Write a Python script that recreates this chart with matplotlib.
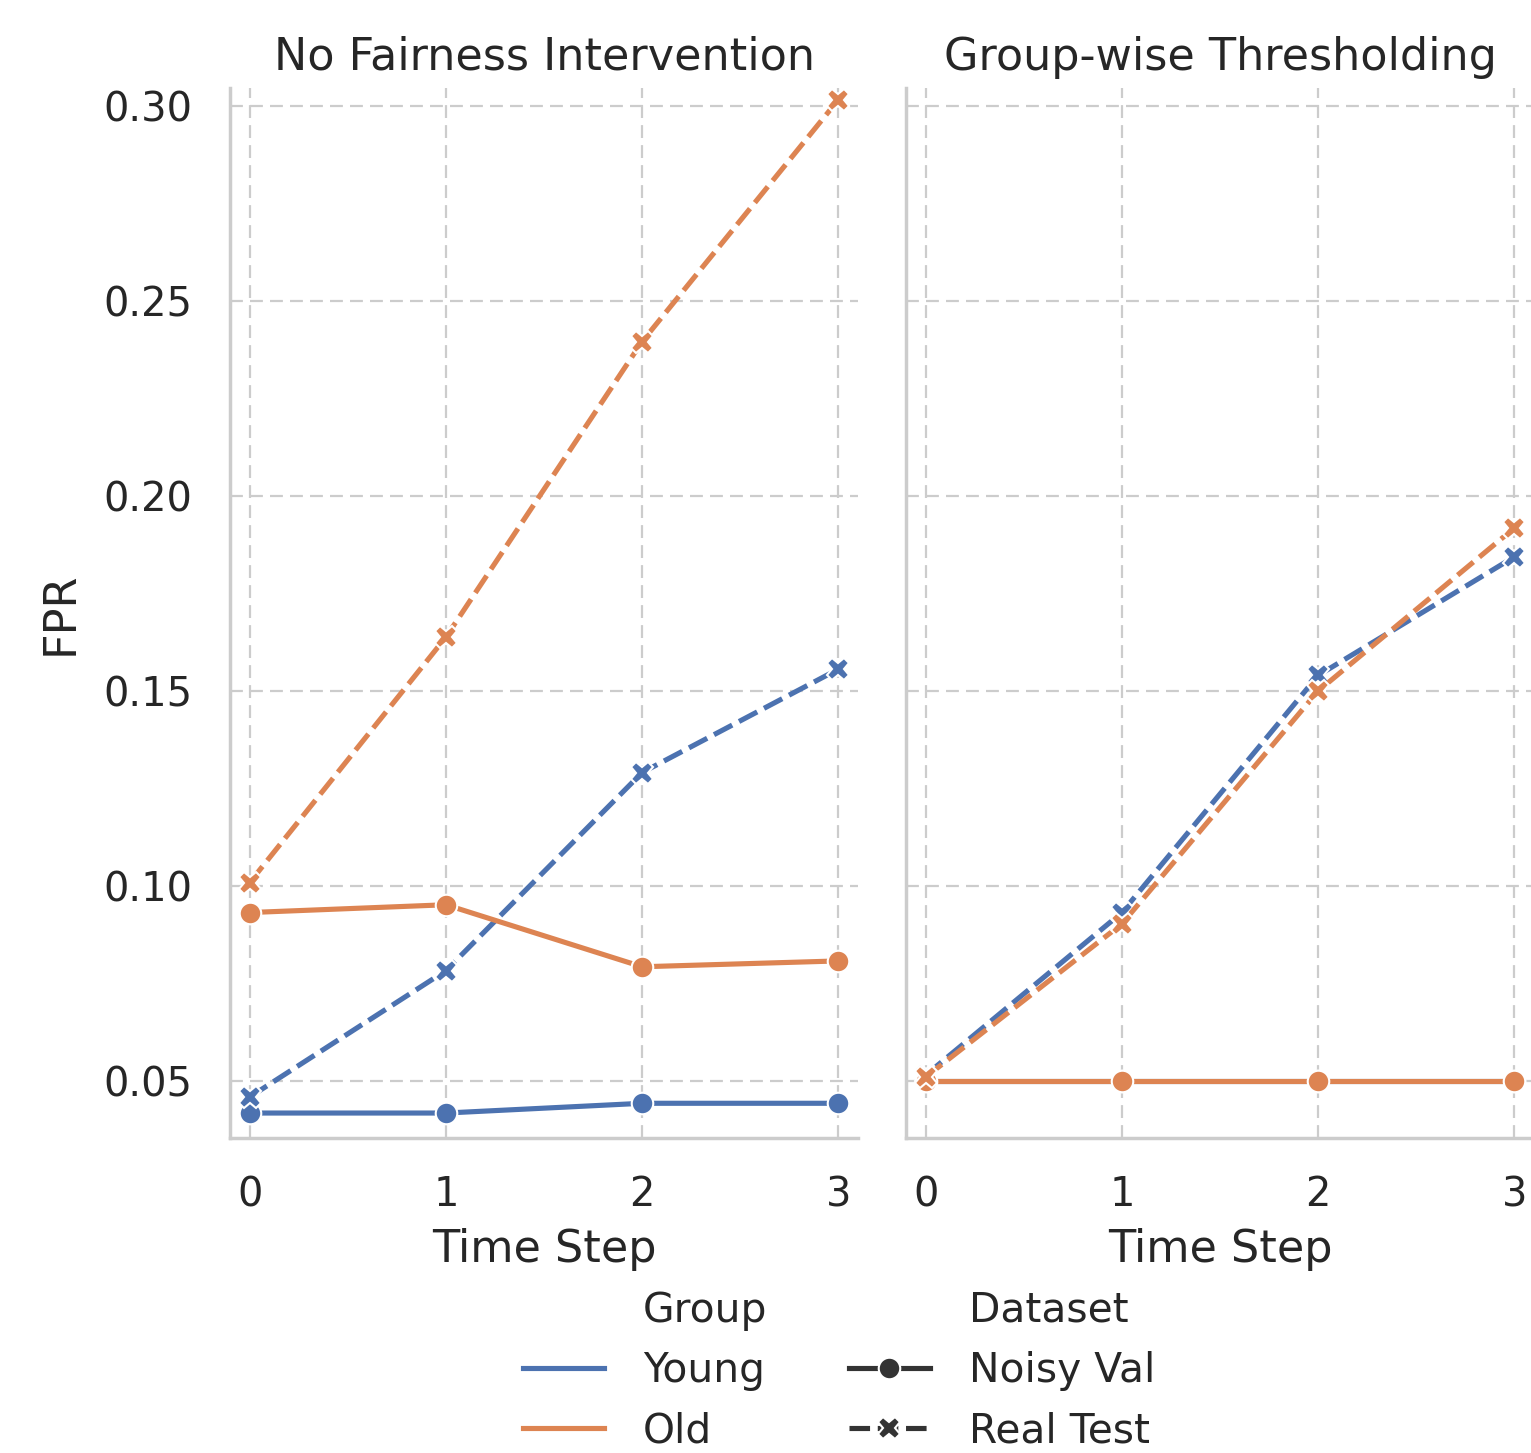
import matplotlib
matplotlib.use("Agg")
import matplotlib.pyplot as plt
from matplotlib.lines import Line2D

plt.rcParams['font.family'] = ['DejaVu Sans']

time_steps = [0, 1, 2, 3]
panel_titles = ["No Fairness Intervention", "Group-wise Thresholding"]
groups = ["Young", "Old"]
datasets = ["Noisy Val", "Real Test"]

# Panel 1: No Fairness Intervention
nf_young_noisy = [0.0418, 0.0418, 0.0443, 0.0443]
nf_young_real = [0.0459, 0.0783, 0.1291, 0.1556]
nf_old_noisy = [0.0932, 0.0952, 0.0793, 0.0808]
nf_old_real = [0.1009, 0.1638, 0.2396, 0.3016]

# Panel 2: Group-wise Thresholding
gt_young_noisy = [0.0500, 0.0500, 0.0500, 0.0500]
gt_young_real = [0.0515, 0.0932, 0.1540, 0.1844]
gt_old_noisy = [0.0500, 0.0500, 0.0500, 0.0500]
gt_old_real = [0.0510, 0.0903, 0.1500, 0.1918]

yticks = [0.05, 0.10, 0.15, 0.20, 0.25, 0.30]

colors = {"Young": "#4C72B0", "Old": "#DD8452"}
DASH = (0, (4, 1.5))
styles = {"Noisy Val": dict(ls="-", marker="o", ms=15.5),
          "Real Test": dict(ls=DASH, marker="X", ms=16)}

panels = [
    {("Young", "Noisy Val"): nf_young_noisy, ("Young", "Real Test"): nf_young_real,
     ("Old", "Noisy Val"): nf_old_noisy, ("Old", "Real Test"): nf_old_real},
    {("Young", "Noisy Val"): gt_young_noisy, ("Young", "Real Test"): gt_young_real,
     ("Old", "Noisy Val"): gt_old_noisy, ("Old", "Real Test"): gt_old_real},
]

W, H = 1531, 1453
fig = plt.figure(figsize=(W / 100, H / 100), dpi=100)
ax_w = 628 / W
ax_h = (1138 - 88) / H
bottom = 1 - 1138 / H
ax1 = fig.add_axes([230 / W, bottom, ax_w, ax_h])
ax2 = fig.add_axes([906 / W, bottom, ax_w, ax_h], sharey=ax1)

grid_col = "#cccccc"
txt_col = "#262626"
LW = 3.7
for i, (ax, title, data) in enumerate(zip([ax1, ax2], panel_titles, panels)):
    ax.set_axisbelow(True)
    for g in groups:
        for d in datasets:
            st = styles[d]
            ax.plot(time_steps, data[(g, d)], color=colors[g], lw=LW,
                    linestyle=st["ls"], marker=st["marker"], ms=st["ms"],
                    markeredgecolor="white", markeredgewidth=1.5, zorder=3)
    ax.set_xlim(-0.1, 3.1)
    ax.set_ylim(0.0354, 0.3046)
    ax.set_xticks(time_steps)
    ax.set_yticks(yticks)
    ax.grid(True, linestyle=(0, (5.8, 3.2)), color=grid_col, lw=1.6)
    for s in ["top", "right"]:
        ax.spines[s].set_visible(False)
    for s in ["left", "bottom"]:
        ax.spines[s].set_color(grid_col)
        ax.spines[s].set_linewidth(2.5)
    ax.tick_params(axis="both", length=0, pad=27, labelsize=28.8, labelcolor=txt_col)
    ax.set_title(title, fontsize=32, color=txt_col, pad=13)
    ax.set_xlabel("Time Step", fontsize=32, color=txt_col, labelpad=9)

ax1.yaxis.set_major_formatter(matplotlib.ticker.FormatStrFormatter("%.2f"))
ax1.set_ylabel("FPR", fontsize=32, color=txt_col, labelpad=16)
plt.setp(ax2.get_yticklabels(), visible=False)

# Legend
blank = Line2D([], [], color="none")
handles = [blank,
           Line2D([], [], color=colors["Young"], lw=LW),
           Line2D([], [], color=colors["Old"], lw=LW),
           blank,
           Line2D([], [], color="#333333", lw=LW, ls="-", marker="o", ms=15.5,
                  markeredgecolor="white", markeredgewidth=1.5),
           Line2D([], [], color="#333333", lw=LW, ls=DASH, marker="X", ms=16,
                  markeredgecolor="white", markeredgewidth=1.5)]
labels = ["Group"] + groups + ["Dataset"] + datasets
leg = fig.legend(handles, labels, ncol=2, loc="upper center",
                 bbox_to_anchor=(0.548, 0.137), frameon=False, fontsize=29.3,
                 handlelength=2.0, handletextpad=0.95, columnspacing=2.0,
                 labelspacing=0.5)
for t in leg.get_texts():
    t.set_color(txt_col)

fig.savefig("out.png", dpi=100)
